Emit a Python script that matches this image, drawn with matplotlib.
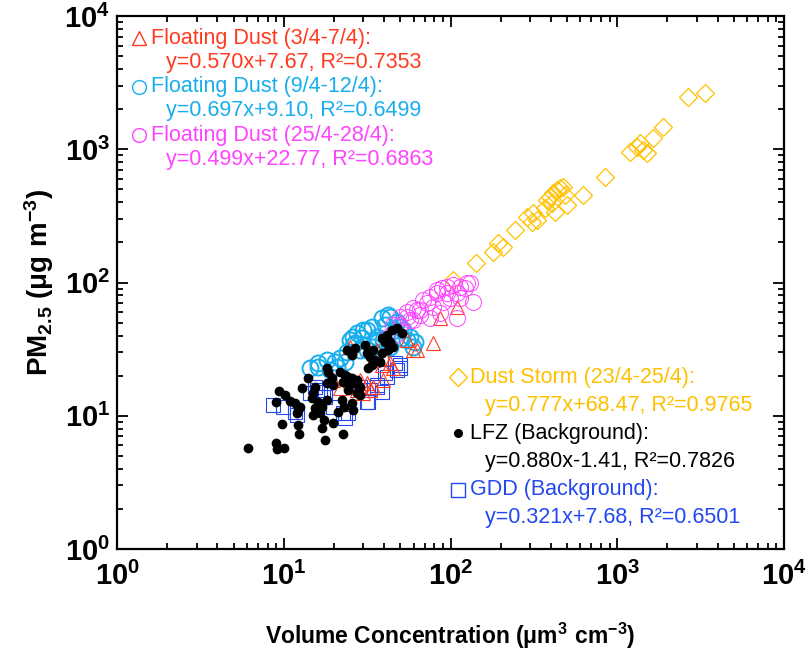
"""Log-log scatter of PM2.5 against particle volume concentration."""

import matplotlib

matplotlib.use("Agg")

import matplotlib.pyplot as plt
from matplotlib.ticker import FuncFormatter, LogLocator
import numpy as np

plt.rcParams["font.family"] = ["Liberation Sans", "DejaVu Sans"]
plt.rcParams["mathtext.fontset"] = "custom"
plt.rcParams["mathtext.rm"] = "Liberation Sans"
plt.rcParams["mathtext.bf"] = "Liberation Sans:bold"
plt.rcParams["mathtext.default"] = "regular"

# Dust storm (23/4-25/4)
storm_vol = [3360, 2656, 1881, 1638, 1369, 1313, 1427, 1192, 1508, 845, 623, 486,
             473, 500, 435, 412, 395, 379, 454, 406, 424, 369, 312, 287, 308, 330,
             244, 193, 206, 180, 142, 104]
storm_pm = [2643, 2466, 1469, 1215, 1114, 1040, 987, 953, 937, 619, 454, 454,
            521, 382, 495, 470, 438, 417, 512, 395, 338, 362, 332, 310, 285, 295,
            248, 198, 185, 169, 140, 104]

# GDD background
gdd_vol = [9.9, 12.0, 14.4, 15.4, 19.7, 22.7, 23.3, 17.7, 16.5, 32.0, 38.8, 36.2,
           40.5, 49.8, 46.5, 32.9, 28.7, 11.7, 15.8, 17.2, 24.3, 31.6, 49.8, 47.8,
           41.6, 36.2, 8.6]
gdd_pm = [11.6, 10.1, 14.8, 16.4, 11.6, 10.5, 9.6, 13.8, 15.1, 12.7, 15.1, 16.4,
          20.9, 22.8, 24.9, 15.6, 16.4, 10.7, 15.6, 13.8, 10.5, 12.7, 24.0, 22.0,
          19.5, 17.0, 12.0]

# Floating dust (9/4-12/4)
fd2_vol = [16.1, 18.2, 21.7, 24.0, 26.0, 29.5, 29.9, 33.8, 38.8, 43.4, 47.8, 51.9,
           57.2, 61.3, 39.4, 34.3, 31.6, 18.9, 20.9, 26.0, 27.5, 36.2, 46.5, 51.2,
           43.4, 16.1, 26.8, 31.6, 42.2, 54.8, 59.6, 49.8, 14.4, 20.3, 23.3, 28.7,
           35.3, 40.5, 25.0]
fd2_pm = [24.9, 26.2, 27.1, 30.1, 34.0, 38.3, 44.0, 46.4, 54.2, 55.1, 50.5, 44.0,
          39.0, 35.8, 37.0, 32.8, 31.2, 22.0, 23.2, 39.0, 41.8, 39.0, 44.0, 38.3,
          32.8, 23.2, 35.2, 44.0, 57.0, 37.0, 32.8, 46.4, 22.8, 25.3, 25.3, 31.2,
          37.0, 48.0, 37.0]

# Floating dust (3/4-7/4)
fd1_vol = [78.6, 59.6, 54.8, 86.5, 109.4, 63.0, 34.3, 38.8, 43.4, 31.6, 34.3, 27.5,
           26.0, 29.9, 32.9, 28.7, 25.0, 40.5, 45.2, 39.4, 36.2, 19.7, 21.7]
fd1_pm = [35.2, 31.2, 37.0, 54.2, 65.5, 31.2, 26.2, 24.0, 24.9, 17.6, 16.4, 15.6,
          16.4, 14.8, 15.6, 18.6, 32.8, 27.1, 22.8, 18.6, 31.2, 18.6, 16.2]

# Floating dust (25/4-28/4)
fd3_vol = [54.8, 59.6, 68.4, 75.4, 83.0, 88.9, 95.3, 103.5, 114.0, 130.9, 122.2,
           136.4, 109.4, 49.8, 45.2, 65.6, 78.6, 90.2, 99.3, 114.0, 86.5, 75.4,
           59.6, 83.0, 95.3, 109.4, 125.6, 54.8, 63.0, 72.3, 41.6, 49.8, 57.2,
           65.6, 46.5]
fd3_pm = [60.1, 64.4, 73.9, 77.8, 83.4, 90.9, 92.5, 95.8, 92.5, 99.1, 90.9,
          71.4, 54.2, 55.1, 48.0, 62.2, 65.5, 71.4, 76.5, 76.5, 59.0, 54.2,
          52.3, 87.8, 83.4, 83.4, 99.1, 55.1, 62.2, 70.2, 39.0, 48.0, 52.3,
          57.0, 40.4]

# LFZ background
lfz_vol = [6.1, 9.0, 9.1, 10.0, 9.8, 12.2, 12.4, 9.4, 10.2, 9.0, 10.9, 12.5, 12.2,
           12.0, 14.0, 12.9, 15.4, 15.0, 14.8, 16.1, 15.4, 15.0, 16.5, 17.4, 17.0,
           17.7, 18.2, 17.0, 19.7, 22.7, 21.2, 23.0, 22.4, 25.7, 26.0, 18.2, 18.4,
           18.2, 19.7, 23.3, 24.3, 25.7, 27.5, 22.7, 24.0, 26.0, 27.9, 28.7, 24.3,
           27.5, 28.7, 24.0, 25.7, 26.8, 30.7, 31.6, 34.3, 32.9, 35.3, 33.8, 32.0,
           38.8, 41.6, 44.6, 47.8, 51.2, 40.5, 43.4, 45.2, 42.2, 38.8, 37.8, 21.7,
           19.5, 11.7]
lfz_pm = [5.7, 6.3, 5.6, 5.7, 8.7, 8.5, 7.3, 15.3, 14.3, 12.7, 12.9, 11.6, 11.0,
          10.5, 19.2, 16.2, 16.4, 14.8, 13.6, 12.7, 11.4, 10.1, 10.5, 9.3, 8.1,
          6.6, 13.1, 11.6, 8.8, 7.3, 10.7, 11.6, 13.1, 12.5, 11.0, 22.8, 21.3,
          17.6, 17.0, 20.2, 19.5, 19.2, 18.6, 17.9, 17.6, 17.6, 17.0, 16.4, 15.6,
          14.8, 14.3, 31.2, 28.6, 32.2, 34.0, 29.6, 31.2, 27.6, 26.2, 24.0, 22.8,
          38.3, 40.4, 44.0, 45.6, 41.8, 35.8, 35.8, 32.8, 31.2, 29.6, 25.3, 21.3,
          19.2, 12.5]

RED = "#FF3A1F"
CYAN = "#17AEEE"
MAGENTA = "#FF44FF"
GOLD = "#FFC000"
BLUE = "#2348F0"

fig = plt.figure(figsize=(8.11, 6.59), dpi=100)
ax = fig.add_axes([0.1443, 0.1669, 0.8224, 0.8088])

ax.plot(storm_vol, storm_pm, ls="none", marker="D", ms=9.5, mfc="none", mec=GOLD, mew=0.9)
ax.plot(gdd_vol, gdd_pm, ls="none", marker="s", ms=10, mfc="none", mec=BLUE, mew=0.8)
ax.plot(fd2_vol, fd2_pm, ls="none", marker="o", ms=11.5, mfc="none", mec=CYAN, mew=1.4)
ax.plot(fd1_vol, fd1_pm, ls="none", marker="^", ms=10, mfc="none", mec=RED, mew=0.8)
ax.plot(fd3_vol, fd3_pm, ls="none", marker="o", ms=11.5, mfc="none", mec=MAGENTA, mew=0.7)
ax.plot(lfz_vol, lfz_pm, ls="none", marker="o", ms=6, mfc="black", mec="black")

ax.set_xscale("log")
ax.set_yscale("log")
ax.set_xlim(1, 1e4)
ax.set_ylim(1, 1e4)

fmt = FuncFormatter(lambda v, pos: r"$\mathbf{10^{%d}}$" % round(np.log10(v)))
for axis in (ax.xaxis, ax.yaxis):
    axis.set_major_locator(LogLocator(base=10, numticks=10))
    axis.set_minor_locator(LogLocator(base=10, subs=np.arange(2, 10), numticks=10))
    axis.set_major_formatter(fmt)
ax.tick_params(which="both", direction="in", top=True, right=True, width=1.3)
ax.tick_params(which="major", length=8)
ax.tick_params(which="minor", length=4)
ax.tick_params(axis="x", which="major", labelsize=21, pad=9)
ax.tick_params(axis="y", which="major", labelsize=21, pad=5)
for spine in ax.spines.values():
    spine.set_linewidth(1.6)

ax.set_xlabel(r"Volume Concentration ($\mathbf{\mu m^3\ cm^{-3}}$)",
              fontsize=16.5, fontweight="bold", labelpad=22)
ax.set_ylabel(r"PM$_{\mathbf{2.5}}$ ($\mathbf{\mu g\ m^{-3}}$)",
              fontsize=20, fontweight="bold", labelpad=6)

# annotation blocks with the regression of each group
upper = [
    ("^", RED, "Floating Dust (3/4-7/4):", "y=0.570x+7.67, R²=0.7353"),
    ("o", CYAN, "Floating Dust (9/4-12/4):", "y=0.697x+9.10, R²=0.6499"),
    ("o", MAGENTA, "Floating Dust (25/4-28/4):", "y=0.499x+22.77, R²=0.6863"),
]
lower = [
    ("D", GOLD, "Dust Storm (23/4-25/4):", "y=0.777x+68.47, R²=0.9765"),
    ("o", "black", "LFZ (Background):", "y=0.880x-1.41, R²=0.7826"),
    ("s", BLUE, "GDD (Background):", "y=0.321x+7.68, R²=0.6501"),
]


def draw_block(rows, x0, top, step):
    for i, (mk, color, title, eq) in enumerate(rows):
        y_title = top - 2 * i * step
        y_eq = y_title - step
        filled = color == "black"
        ax.plot([x0], [y_title], transform=ax.transAxes, clip_on=False, ls="none",
                marker=mk, ms=5.5 if filled else (10 if mk != "D" else 9),
                mfc=color if filled else "none", mec=color, mew=1.0)
        ax.text(x0 + 0.018, y_title, title, transform=ax.transAxes, color=color,
                fontsize=15.5, va="center", ha="left")
        ax.text(x0 + 0.041, y_eq, eq, transform=ax.transAxes, color=color,
                fontsize=15.5, va="center", ha="left")


draw_block(upper, 0.033, 0.9587, 0.0456)
draw_block(lower, 0.511, 0.3227, 0.0529)

fig.savefig("out.png", dpi=100)
plt.close(fig)
